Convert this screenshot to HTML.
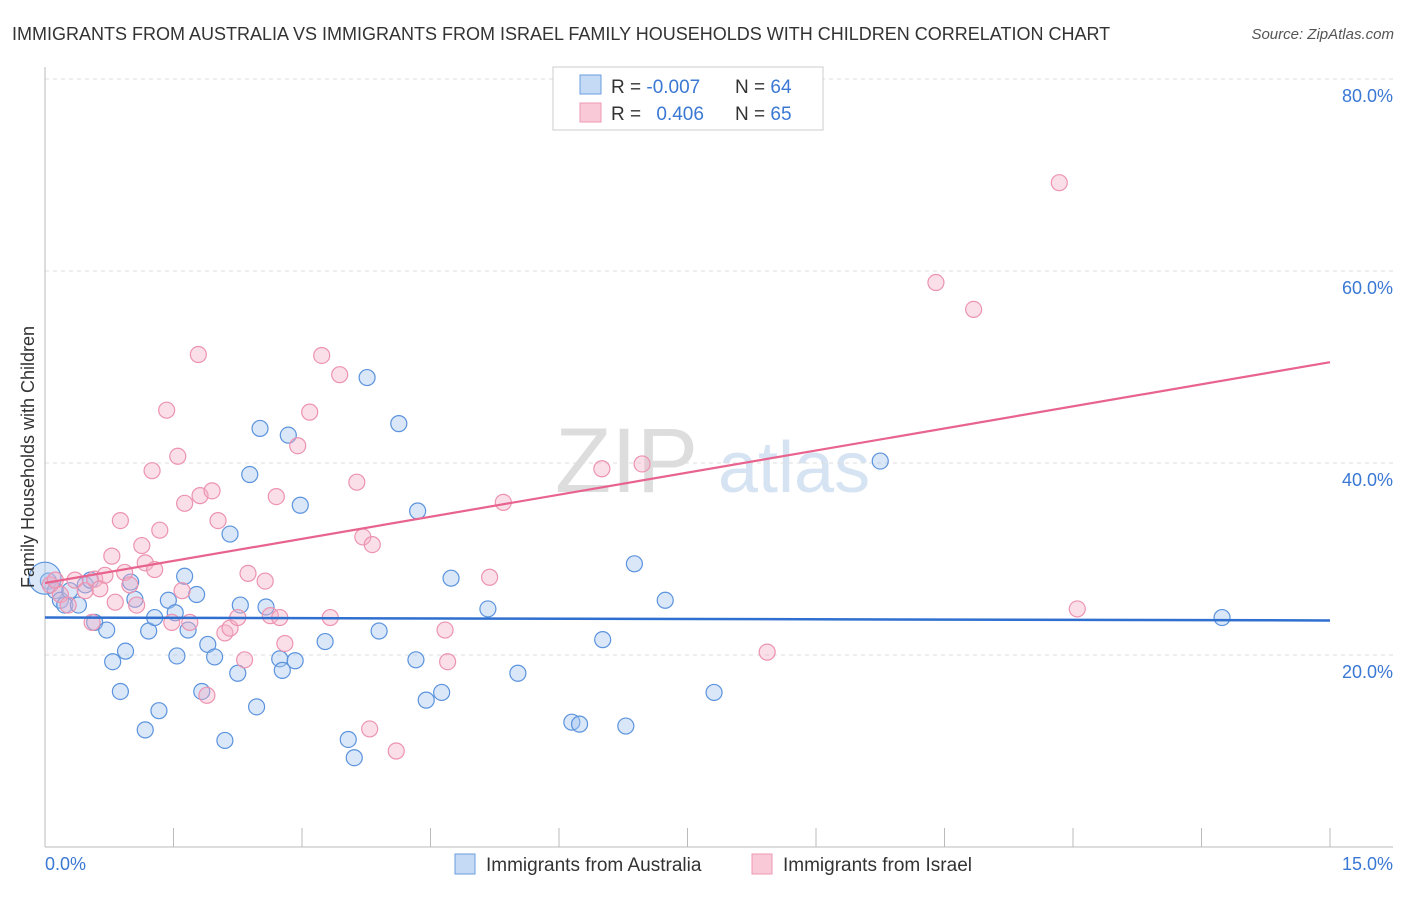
<!DOCTYPE html>
<html><head><meta charset="utf-8"><style>
body{margin:0;background:#fff;font-family:"Liberation Sans",sans-serif;}
svg text{font-family:"Liberation Sans",sans-serif;}
</style></head><body>
<svg id="chart" width="1406" height="892" viewBox="0 0 1406 892">
<text x="12" y="40" font-size="18" fill="#333">IMMIGRANTS FROM AUSTRALIA VS IMMIGRANTS FROM ISRAEL FAMILY HOUSEHOLDS WITH CHILDREN CORRELATION CHART</text>
<text x="1394" y="39" font-size="15" fill="#555" text-anchor="end" font-style="italic">Source: ZipAtlas.com</text>
<g>
<text x="555" y="492" font-size="92" fill="#ddd" font-family="Liberation Serif">ZIP</text>
<text x="718" y="492" font-size="72" fill="#d5e3f3">atlas</text>
</g>
<g id="grid"></g>
<g id="axes"></g>
<g id="points"></g>
<g id="trends"></g>
<text transform="translate(34,457) rotate(-90)" font-size="18" fill="#333" text-anchor="middle">Family Households with Children</text>
<text x="45" y="870" font-size="18" fill="#3a78d4">0.0%</text>
<text x="1393" y="870" font-size="18" fill="#3a78d4" text-anchor="end">15.0%</text>
<g>
<rect x="553" y="67" width="270" height="63" fill="#fff" stroke="#ccc"/>
<rect x="580" y="75" width="21" height="19" fill="#c5daf5" stroke="#6a9de0"/>
<rect x="580" y="103" width="21" height="19" fill="#f9c9d8" stroke="#ee99b3"/>
<text x="611" y="93" font-size="19" fill="#333">R = <tspan fill="#3a78d4">-0.007</tspan></text>
<text x="735" y="93" font-size="19" fill="#333">N = <tspan fill="#3a78d4">64</tspan></text>
<text x="611" y="120" font-size="19" fill="#333">R = <tspan fill="#3a78d4" dx="10">0.406</tspan></text>
<text x="735" y="120" font-size="19" fill="#333">N = <tspan fill="#3a78d4">65</tspan></text>
</g>
<g>
<rect x="455" y="854" width="20" height="20" fill="#c5daf5" stroke="#6a9de0"/>
<text x="486" y="871" font-size="19" fill="#333">Immigrants from Australia</text>
<rect x="752" y="854" width="20" height="20" fill="#f9c9d8" stroke="#ee99b3"/>
<text x="783" y="871" font-size="19" fill="#333">Immigrants from Israel</text>
</g>
</svg>
<script>
const yTicks=[20,40,60,80];
const yTickLabels=["20.0%","40.0%","60.0%","80.0%"];
const xTicks=[0,1.5,3,4.5,6,7.5,9,10.5,12,13.5,15];
const australiaX=[0.04,0.12,0.18,0.23,0.29,0.39,0.47,0.53,0.58,0.72,0.79,0.88,0.94,1,1.05,1.17,1.21,1.28,1.33,1.44,1.52,1.54,1.63,1.67,1.77,1.83,1.9,1.98,2.1,2.16,2.25,2.28,2.39,2.47,2.51,2.58,2.74,2.77,2.84,2.92,2.98,3.27,3.54,3.61,3.76,3.9,4.13,4.33,4.35,4.45,4.63,4.74,5.17,5.52,6.15,6.24,6.51,6.78,6.88,7.24,7.81,9.75,13.74,0];
const australiaY=[27.7,26.7,25.7,25.2,26.7,25.2,27.3,27.8,23.4,22.6,19.3,16.2,20.4,27.6,25.8,12.2,22.5,23.9,14.2,25.7,24.4,19.9,28.2,22.6,26.3,16.2,21.1,19.8,11.1,32.6,18.1,25.2,38.8,14.6,43.6,25,19.6,18.4,42.9,19.4,35.6,21.4,11.2,9.3,48.9,22.5,44.1,19.5,35,15.3,16.1,28,24.8,18.1,13,12.8,21.6,12.6,29.5,25.7,16.1,40.2,23.9,28];
const israelX=[0.06,0.12,0.18,0.27,0.35,0.47,0.55,0.58,0.64,0.7,0.78,0.82,0.88,0.93,0.99,1.07,1.13,1.17,1.25,1.28,1.34,1.42,1.48,1.55,1.6,1.63,1.69,1.79,1.81,1.89,1.95,2.02,2.1,2.16,2.25,2.33,2.37,2.57,2.63,2.7,2.74,2.8,2.95,3.09,3.23,3.33,3.44,3.64,3.71,3.82,3.79,4.1,4.67,4.7,5.19,5.35,6.5,6.97,8.43,10.4,10.84,11.84,12.05];
const israelY=[27.3,27.8,26.3,25.2,27.8,26.7,23.4,27.9,26.9,28.3,30.3,25.5,34,28.6,27.3,25.2,31.4,29.6,39.2,28.9,33,45.5,23.4,40.7,26.7,35.8,23.4,51.3,36.6,15.8,37.1,34,22.3,22.8,23.9,19.5,28.5,27.7,24.1,36.5,23.9,21.2,41.8,45.3,51.2,23.9,49.2,38,32.3,31.5,12.3,10,22.6,19.3,28.1,35.9,39.4,39.9,20.3,58.8,56,69.2,24.8];
const blueTrend=[23.9,23.6];
const pinkTrend=[27.5,50.5];
const NS="http://www.w3.org/2000/svg";
const X0=45,X1=1330,Y0=847,Y1=79;
function xs(v){return X0+(v/15)*(X1-X0);}
function ys(v){return Y0-(v/80)*(Y0-Y1);}
function mk(tag,attrs,parent){const e=document.createElementNS(NS,tag);for(const k in attrs)e.setAttribute(k,attrs[k]);parent.appendChild(e);return e;}
const grid=document.getElementById('grid'),axes=document.getElementById('axes'),pts=document.getElementById('points'),tr=document.getElementById('trends');
yTicks.forEach((t,i)=>{
 const l=mk('line',{x1:X0,x2:1393,y1:ys(t),y2:ys(t),stroke:'#ddd','stroke-dasharray':'4,4'},grid);
 
 
 const tx=mk('text',{x:1393,y:ys(t)+23,'font-size':18,fill:'#3a78d4','text-anchor':'end'},axes);
 tx.textContent=yTickLabels[i];
 
 
});
const ya=mk('line',{x1:X0,x2:X0,y1:67,y2:Y0,stroke:'#bbb'},axes);


const xa=mk('line',{x1:X0,x2:1393,y1:Y0,y2:Y0,stroke:'#bbb'},axes);


xTicks.forEach(t=>{
 const l=mk('line',{x1:xs(t),x2:xs(t),y1:828,y2:Y0,stroke:'#bbb'},axes);
 
 
});
australiaX.forEach((x,i)=>{
 const r=(i===australiaX.length-1)?16:8;
 const c=mk('circle',{cx:xs(x),cy:ys(australiaY[i]),r:r,fill:'rgba(160,196,240,0.4)',stroke:'#5b93dd','stroke-width':1.2},pts);
 
 
});
israelX.forEach((x,i)=>{
 const c=mk('circle',{cx:xs(x),cy:ys(israelY[i]),r:8,fill:'rgba(245,175,198,0.4)',stroke:'#ec93b0','stroke-width':1.2},pts);
 
 
});
const bl=mk('line',{x1:xs(0),x2:xs(15),y1:ys(blueTrend[0]),y2:ys(blueTrend[1]),stroke:'#2f6fcf','stroke-width':2.5},tr);


const pl=mk('line',{x1:xs(0),x2:xs(15),y1:ys(pinkTrend[0]),y2:ys(pinkTrend[1]),stroke:'#e8638e','stroke-width':2.2},tr);


</script>
</body></html>
